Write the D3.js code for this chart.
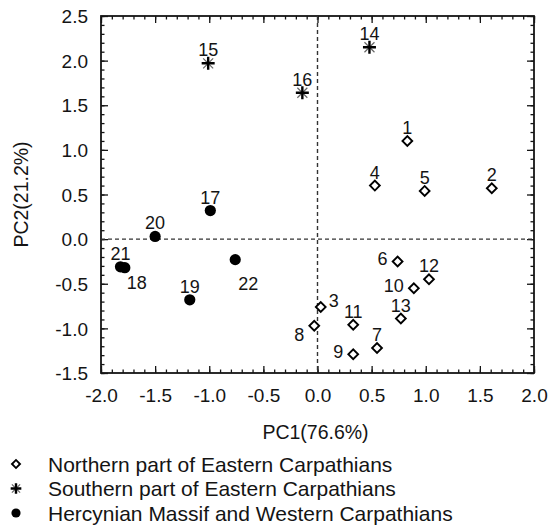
<!DOCTYPE html>
<html>
<head>
<meta charset="utf-8">
<script src="https://cdn.jsdelivr.net/npm/d3@7"></script>
<style>
  html, body { margin: 0; padding: 0; background: #fff; }
  svg { display: block; font-family: Arial, "Liberation Sans", sans-serif; }
</style>
</head>
<body>
<svg id="chart" width="549" height="530"></svg>
<script>
// PCA scores of the 22 samples
const sampleIds = [1, 2, 3, 4, 5, 6, 7, 8, 9, 10, 11, 12, 13, 14, 15, 16, 17, 18, 19, 20, 21, 22];
const pc1 = [0.83, 1.61, 0.03, 0.53, 0.99, 0.74, 0.55, -0.03, 0.33, 0.89, 0.33, 1.03, 0.77,
             0.48, -1.01, -0.14,
             -0.99, -1.78, -1.18, -1.50, -1.82, -0.76];
const pc2 = [1.10, 0.57, -0.76, 0.60, 0.54, -0.25, -1.22, -0.97, -1.29, -0.55, -0.96, -0.45, -0.89,
             2.15, 1.97, 1.64,
             0.32, -0.32, -0.68, 0.03, -0.31, -0.23];
const groupIndex = [0, 0, 0, 0, 0, 0, 0, 0, 0, 0, 0, 0, 0,
                    1, 1, 1,
                    2, 2, 2, 2, 2, 2];
const groupNames = [
  "Northern part of Eastern Carpathians",
  "Southern part of Eastern Carpathians",
  "Hercynian Massif and Western Carpathians"
];
const xTicks = [-2.0, -1.5, -1.0, -0.5, 0.0, 0.5, 1.0, 1.5, 2.0];
const yTicks = [-1.5, -1.0, -0.5, 0.0, 0.5, 1.0, 1.5, 2.0, 2.5];
const xTitle = "PC1(76.6%)";
const yTitle = "PC2(21.2%)";

// where each sample number sits relative to its marker
const labelSide = { 3: "right", 6: "left", 10: "left", 8: "leftBelow", 9: "left", 18: "belowRight", 22: "belowRightFar" };
const sideOffset = {
  above:         { dx: 0,   dy: -7,   anchor: "middle" },
  right:         { dx: 8,   dy: 0,    anchor: "start" },
  left:          { dx: -10, dy: 4,    anchor: "end" },
  leftBelow:     { dx: -10, dy: 15,   anchor: "end" },
  belowRight:    { dx: 2,   dy: 21,   anchor: "start" },
  belowRightFar: { dx: 3,   dy: 30,   anchor: "start" }
};

const ink = "#141414";
const svg = d3.select("#chart");
const plot = { left: 101, right: 534, top: 16, bottom: 373 };

const x = d3.scaleLinear().domain([-2, 2]).range([plot.left, plot.right]);
const y = d3.scaleLinear().domain([-1.5, 2.5]).range([plot.bottom, plot.top]);

const minorX = d3.range(-20, 21).map(v => v / 10);
const minorY = d3.range(-15, 26).map(v => v / 10);

// axes: ticks point inward on all four sides, labels only bottom and left
function styleAxis(g) {
  g.select(".domain").remove();
  g.selectAll("line").attr("stroke", ink).attr("stroke-width", 1.3);
}
const fmt1 = d3.format(".1f");
const fmt = v => fmt1(v).replace("\u2212", "-");

// minor ticks
svg.append("g").attr("transform", `translate(0,${plot.bottom})`)
  .call(d3.axisTop(x).tickValues(minorX).tickSize(3.5).tickFormat(""))
  .call(styleAxis);
svg.append("g").attr("transform", `translate(0,${plot.top})`)
  .call(d3.axisBottom(x).tickValues(minorX).tickSize(3.5).tickFormat(""))
  .call(styleAxis);
svg.append("g").attr("transform", `translate(${plot.left},0)`)
  .call(d3.axisRight(y).tickValues(minorY).tickSize(3.5).tickFormat(""))
  .call(styleAxis);
svg.append("g").attr("transform", `translate(${plot.right},0)`)
  .call(d3.axisLeft(y).tickValues(minorY).tickSize(3.5).tickFormat(""))
  .call(styleAxis);

// major ticks
svg.append("g").attr("transform", `translate(0,${plot.top})`)
  .call(d3.axisBottom(x).tickValues(xTicks).tickSize(7).tickFormat(""))
  .call(styleAxis);
svg.append("g").attr("transform", `translate(${plot.right},0)`)
  .call(d3.axisLeft(y).tickValues(yTicks).tickSize(7).tickFormat(""))
  .call(styleAxis);

const xAxis = svg.append("g").attr("transform", `translate(0,${plot.bottom})`)
  .call(d3.axisTop(x).tickValues(xTicks).tickSize(7).tickFormat(fmt))
  .call(styleAxis);
xAxis.selectAll("text")
  .attr("y", 29).attr("dy", 0)
  .attr("font-size", 19).attr("fill", ink)
  .attr("font-family", "Arial, 'Liberation Sans', sans-serif");

const yAxis = svg.append("g").attr("transform", `translate(${plot.left},0)`)
  .call(d3.axisRight(y).tickValues(yTicks).tickSize(7).tickFormat(fmt))
  .call(styleAxis);
yAxis.selectAll("text")
  .attr("x", -13).attr("dy", "0.35em")
  .attr("text-anchor", "end")
  .attr("font-size", 19).attr("fill", ink)
  .attr("font-family", "Arial, 'Liberation Sans', sans-serif");

// frame
svg.append("rect")
  .attr("x", plot.left).attr("y", plot.top)
  .attr("width", plot.right - plot.left).attr("height", plot.bottom - plot.top)
  .attr("fill", "none").attr("stroke", ink).attr("stroke-width", 1.8);

// zero reference lines
svg.append("line")
  .attr("x1", x(0)).attr("x2", x(0)).attr("y1", plot.top).attr("y2", plot.bottom)
  .attr("stroke", "#333").attr("stroke-width", 1.4).attr("stroke-dasharray", "4,3");
svg.append("line")
  .attr("x1", plot.left).attr("x2", plot.right).attr("y1", y(0)).attr("y2", y(0))
  .attr("stroke", "#333").attr("stroke-width", 1.4).attr("stroke-dasharray", "4,3");

// marker shapes
function drawMarker(sel, group, scale) {
  if (group === 0) {
    sel.append("path")
      .attr("d", d3.symbol(d3.symbolSquare, 48 * scale * scale)())
      .attr("transform", "rotate(45)")
      .attr("fill", "#fff").attr("stroke", "#000").attr("stroke-width", 1.9);
  } else if (group === 1) {
    const h = 6.5 * scale, d = 5 * scale;
    sel.append("path")
      .attr("d", `M${-d},${-d}L${d},${d}M${-d},${d}L${d},${-d}`)
      .attr("stroke", "#666").attr("stroke-width", 1.2);
    sel.append("path")
      .attr("d", `M${-h},0L${h},0M0,${-h}L0,${h}`)
      .attr("stroke", "#000").attr("stroke-width", 2.4);
  } else {
    sel.append("circle").attr("r", 5.6 * scale).attr("fill", "#000");
  }
}

const points = sampleIds.map((id, i) => ({ id, x: pc1[i], y: pc2[i], g: groupIndex[i] }));

const marks = svg.append("g").selectAll("g.pt")
  .data(points).join("g")
  .attr("class", "pt")
  .attr("transform", d => `translate(${x(d.x)},${y(d.y)})`);
marks.each(function (d) { drawMarker(d3.select(this), d.g, 1); });

// sample numbers
svg.append("g").selectAll("text")
  .data(points).join("text")
  .each(function (d) {
    const o = sideOffset[labelSide[d.id] || "above"];
    d3.select(this)
      .attr("x", x(d.x) + o.dx)
      .attr("y", y(d.y) + o.dy)
      .attr("text-anchor", o.anchor);
  })
  .attr("font-size", 18).attr("fill", ink)
  .text(d => d.id);

// axis titles
svg.append("text")
  .attr("x", (plot.left + plot.right) / 2 - 2).attr("y", 439)
  .attr("text-anchor", "middle").attr("font-size", 19.5).attr("fill", ink)
  .text(xTitle);
svg.append("text")
  .attr("transform", `translate(28,${(plot.top + plot.bottom) / 2}) rotate(-90)`)
  .attr("text-anchor", "middle").attr("font-size", 19.5).attr("fill", ink)
  .text(yTitle);

// legend
const legend = svg.append("g").selectAll("g")
  .data(groupNames).join("g")
  .attr("transform", (d, i) => `translate(16,${464 + i * 24.5})`);
legend.each(function (d, i) { drawMarker(d3.select(this), i, 0.82); });
legend.append("text")
  .attr("x", 32).attr("y", 7.5)
  .attr("font-size", 21).attr("fill", ink)
  .text(d => d);
</script>
</body>
</html>
